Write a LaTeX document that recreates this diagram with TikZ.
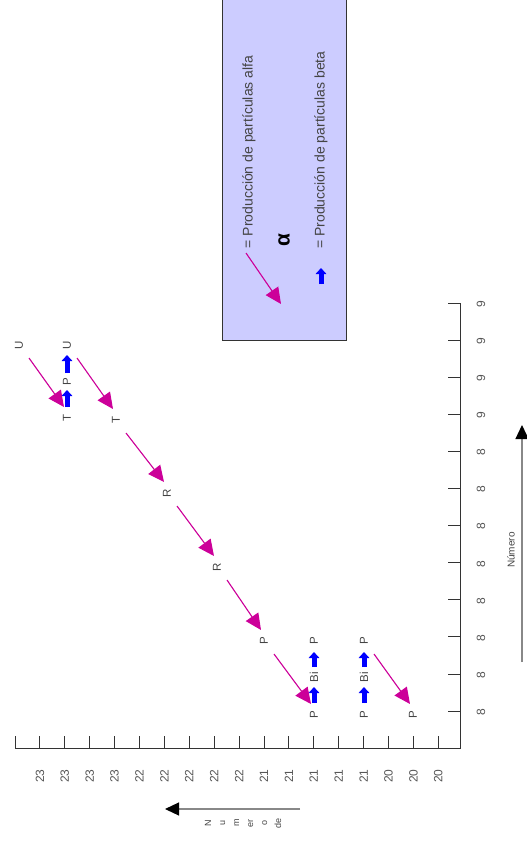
\documentclass[tikz,border=0pt]{standalone}
\usepackage{fontspec}
\setmainfont{Liberation Sans}
\usetikzlibrary{arrows.meta,calc}
\definecolor{mag}{HTML}{CC0099}
\definecolor{legfill}{HTML}{CCCCFF}
\definecolor{axgray}{HTML}{333333}
\definecolor{txtgray}{HTML}{444444}
\definecolor{numgray}{HTML}{555555}
\definecolor{arrgray}{HTML}{888888}
\begin{document}
\begin{tikzpicture}[x=1pt,y=-1pt,
  lbl/.style={rotate=90, inner sep=0pt, text=txtgray, font=\fontsize{11.5}{11.5}\selectfont},
  axlbl/.style={rotate=90, inner sep=0pt, text=numgray, font=\fontsize{12}{12}\selectfont},
  legtxt/.style={rotate=90, inner sep=0pt, text=txtgray, font=\fontsize{14}{14}\selectfont},
  alphaarrow/.style={draw=mag, fill=mag, line width=1.1pt, -{Triangle[length=16pt,width=15pt]}},
  betaarrow/.style={draw=blue, fill=blue, line width=5pt, -{Triangle[length=6pt,width=10.5pt]}},
  axline/.style={draw=axgray, line width=1pt},
  titlearrow/.style={draw=arrgray, line width=1.2pt, -{Triangle[length=14pt,width=13pt,color=black]}},
  ttl/.style={rotate=90, inner sep=0pt, text=txtgray}
]
\useasboundingbox (0,0) rectangle (527,841);

% legend
\draw[fill=legfill, draw=axgray, line width=0.8pt] (222,-3) rectangle (346,340);
\node[legtxt] (legA) at (249,152) {= Producción de partículas alfa};
\node[legtxt] (legB) at (321,150) {= Producción de partículas beta};
\node[rotate=90, inner sep=0pt, font=\fontsize{21}{21}\selectfont\bfseries] (alf) at (284,240) {α};
\coordinate (la1) at (246,253);
\coordinate (la2) at (281,304);
\draw[alphaarrow] (la1) -- (la2);
\coordinate (lb1) at (321,284);
\coordinate (lb2) at (321,268);
\draw[betaarrow] (lb1) -- (lb2);

% axes
\draw[axline] (15,736) -- (15,748) -- (460,748) -- (460,303) -- (448,303);
\foreach \k in {1,...,17} {
  \draw[axline] ({15+24.9*\k},748) -- ({15+24.9*\k},736);
}
\foreach \j in {1,...,11} {
  \draw[axline] (460,{303+37.1*\j}) -- (448,{303+37.1*\j});
}
\foreach \k/\t in {1/23,2/23,3/23,4/23,5/22,6/22,7/22,8/22,9/22,10/21,11/21,12/21,13/21,14/21,15/20,16/20,17/20} {
  \node[axlbl] (bx\k) at ({15+24.9*\k},776) {\t};
}
\foreach \j/\t in {0/9,1/9,2/9,3/9,4/8,5/8,6/8,7/8,8/8,9/8,10/8,11/8} {
  \node[axlbl] (ry\j) at (481,{304+37.1*\j}) {\t};
}

% axis titles
\coordinate (na1) at (522,662);
\coordinate (na2) at (522,425);
\draw[titlearrow] (na1) -- (na2);
\node[ttl, font=\fontsize{10}{10}\selectfont] (numtitle) at (511,550) {Número};
\coordinate (nb1) at (300,809);
\coordinate (nb2) at (165,809);
\draw[titlearrow] (nb1) -- (nb2);
\node[ttl, align=center, font=\fontsize{9}{14}\selectfont] (numde) at (243,823) {N\\u\\m\\er\\o\\de};

% chain labels
\node[lbl] (U238) at (19,345) {U};
\node[lbl] (Th234) at (67,418) {T};
\node[lbl] (Pa234) at (67,382) {P};
\node[lbl] (U234) at (67,345) {U};
\node[lbl] (Th230) at (116,420) {T};
\node[lbl] (Ra226) at (167,493) {R};
\node[lbl] (Rn222) at (217,567) {R};
\node[lbl] (Po218) at (264,641) {P};
\node[lbl] (Pb214) at (314,715) {P};
\node[lbl] (Bi214) at (314,677) {Bi};
\node[lbl] (Po214) at (314,641) {P};
\node[lbl] (Pb210) at (364,715) {P};
\node[lbl] (Bi210) at (364,677) {Bi};
\node[lbl] (Po210) at (364,641) {P};
\node[lbl] (Pb206) at (413,715) {P};

% alpha decays
\foreach \a/\b in {U238/Th234,U234/Th230,Th230/Ra226,Ra226/Rn222,Rn222/Po218,Po218/Pb214,Po210/Pb206} {
  \draw[alphaarrow] ([shift={(10,13)}]\a.center) -- ([shift={(-3,-11)}]\b.center);
}
% beta decays
\draw[betaarrow] ([shift={(0,-11)}]Th234.center) -- ([shift={(0,8)}]Pa234.center);
\draw[betaarrow] ([shift={(0,-9)}]Pa234.center) -- ([shift={(0,10)}]U234.center);
\draw[betaarrow] ([shift={(0,-12)}]Pb214.center) -- ([shift={(0,10)}]Bi214.center);
\draw[betaarrow] ([shift={(0,-10)}]Bi214.center) -- ([shift={(0,11)}]Po214.center);
\draw[betaarrow] ([shift={(0,-12)}]Pb210.center) -- ([shift={(0,10)}]Bi210.center);
\draw[betaarrow] ([shift={(0,-10)}]Bi210.center) -- ([shift={(0,11)}]Po210.center);
\end{tikzpicture}
\end{document}
